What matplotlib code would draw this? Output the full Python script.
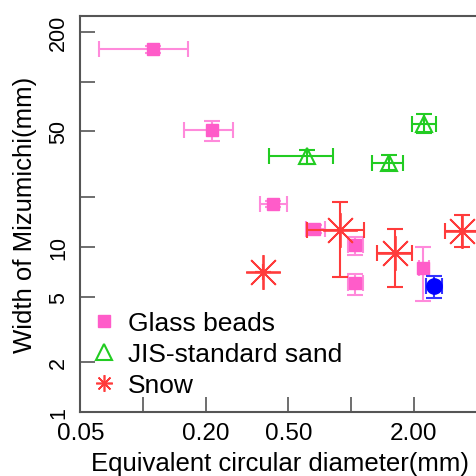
import matplotlib
matplotlib.use("Agg")
import matplotlib.pyplot as plt
import numpy as np

plt.rcParams['font.family'] = ['Liberation Sans', 'DejaVu Sans']

# Glass beads
gb_x = [0.112, 0.214, 0.423, 0.667, 1.05, 1.05, 2.23]
gb_y = [157, 51.2, 18.2, 12.85, 10.2, 6.03, 7.43]
gb_xlo = [0.0614, 0.158, 0.365, 0.608, 0.97, 0.97, 2.12]
gb_xhi = [0.164, 0.270, 0.491, 0.75, 1.146, 1.146, 2.36]
gb_ylo = [150, 44.0, 17.4, 12.2, 8.9, 5.12, 4.73]
gb_yhi = [165, 57.5, 19.0, 13.5, 11.4, 6.86, 10.0]

# extra glass beads point (blue)
bl_x = [2.51]
bl_y = [5.83]
bl_xlo = [2.29]
bl_xhi = [2.73]
bl_ylo = [4.89]
bl_yhi = [6.69]

# JIS-standard sand
js_x = [0.612, 1.53, 2.24]
js_y = [35.3, 32.3, 55.6]
js_xlo = [0.405, 1.266, 1.96]
js_xhi = [0.817, 1.785, 2.56]
js_ylo = [31.8, 29.0, 48.9]
js_yhi = [38.4, 35.8, 63.9]

# Snow
sn_x = [0.376, 0.885, 1.63, 3.40]
sn_y = [7.08, 12.7, 9.2, 12.45]
sn_xlo = [0.376, 0.612, 1.33, 2.83]
sn_xhi = [0.376, 1.155, 1.96, 4.2]
sn_ylo = [7.08, 6.6, 5.70, 10.0]
sn_yhi = [7.08, 18.8, 12.85, 15.6]

x_ticks = [0.05, 0.1, 0.2, 0.5, 1, 2]
x_labels = ['0.05', '', '0.20', '0.50', '', '2.00']
y_ticks = [1, 2, 5, 10, 20, 50, 100, 200]
y_labels = ['1', '2', '5', '10', '', '50', '', '200']


def err(v, lo, hi):
    v = np.array(v)
    return [v - np.array(lo), np.array(hi) - v]


fig = plt.figure(figsize=(4.77, 4.77), dpi=100)
ax = fig.add_axes([80 / 477, 64 / 477, 400 / 477, 396.3 / 477])
ax.set_xscale('log')
ax.set_yscale('log')

ax.errorbar(gb_x, gb_y, xerr=err(gb_x, gb_xlo, gb_xhi), yerr=err(gb_y, gb_ylo, gb_yhi),
            fmt='none', ecolor='#FF8ADB', elinewidth=1.5, capsize=5.5, capthick=1.5)
ax.plot(gb_x, gb_y, 's', color='#FF5CC9', ms=9, label='Glass beads')

ax.errorbar(bl_x, bl_y, xerr=err(bl_x, bl_xlo, bl_xhi), yerr=err(bl_y, bl_ylo, bl_yhi),
            fmt='none', ecolor='#3333FF', elinewidth=1.5, capsize=5.5, capthick=1.5)
ax.plot(bl_x, bl_y, 'o', color='#0000FF', ms=11)

ax.errorbar(js_x, js_y, xerr=err(js_x, js_xlo, js_xhi), yerr=err(js_y, js_ylo, js_yhi),
            fmt='none', ecolor='#22CC22', elinewidth=1.5, capsize=5.5, capthick=1.5)
ax.plot(js_x, js_y, '^', mfc='none', mec='#22CC22', mew=1.5, ms=12,
        label='JIS-standard sand')

ax.errorbar(sn_x, sn_y, xerr=err(sn_x, sn_xlo, sn_xhi), yerr=err(sn_y, sn_ylo, sn_yhi),
            fmt='none', ecolor='#FF3B3B', elinewidth=1.5, capsize=5.5, capthick=1.5)
ax.plot(sn_x, sn_y, marker=(8, 2, 0), ls='none', color='#FF3B3B', mew=1.3, ms=25)
ax.plot([], [], marker=(8, 2, 0), ls='none', color='#FF3B3B', mew=1.2, ms=12, label='Snow')

ax.set_xlim(0.0498, 4.17)
ax.set_ylim(1, 251)
ax.set_xticks(x_ticks)
ax.set_xticklabels(x_labels, fontsize=17.5)
ax.set_yticks(y_ticks)
ax.set_yticklabels(y_labels, rotation=90, va='center', fontsize=15.5)
ax.minorticks_off()
ax.tick_params(direction='in', length=11, width=1.2, color='#555555')
ax.tick_params(axis='x', pad=7)
ax.tick_params(axis='y', pad=8)
for s in ax.spines.values():
    s.set_color('#555555')
    s.set_linewidth(1.5)

ax.set_xlabel('Equivalent circular diameter(mm)', fontsize=18.5, va='center')
ax.xaxis.set_label_coords(0.5, -0.129)
ax.set_ylabel('Width of Mizumichi(mm)', fontsize=18.5, va='center')
ax.yaxis.set_label_coords(-0.137, 0.5)

ax.legend(loc='lower left', frameon=False, fontsize=19, handletextpad=0.4,
          labelspacing=0.27, borderaxespad=0, borderpad=0.4, handlelength=1.0,
          bbox_to_anchor=(0.0, 0.011))

fig.savefig('out.png', dpi=100)
